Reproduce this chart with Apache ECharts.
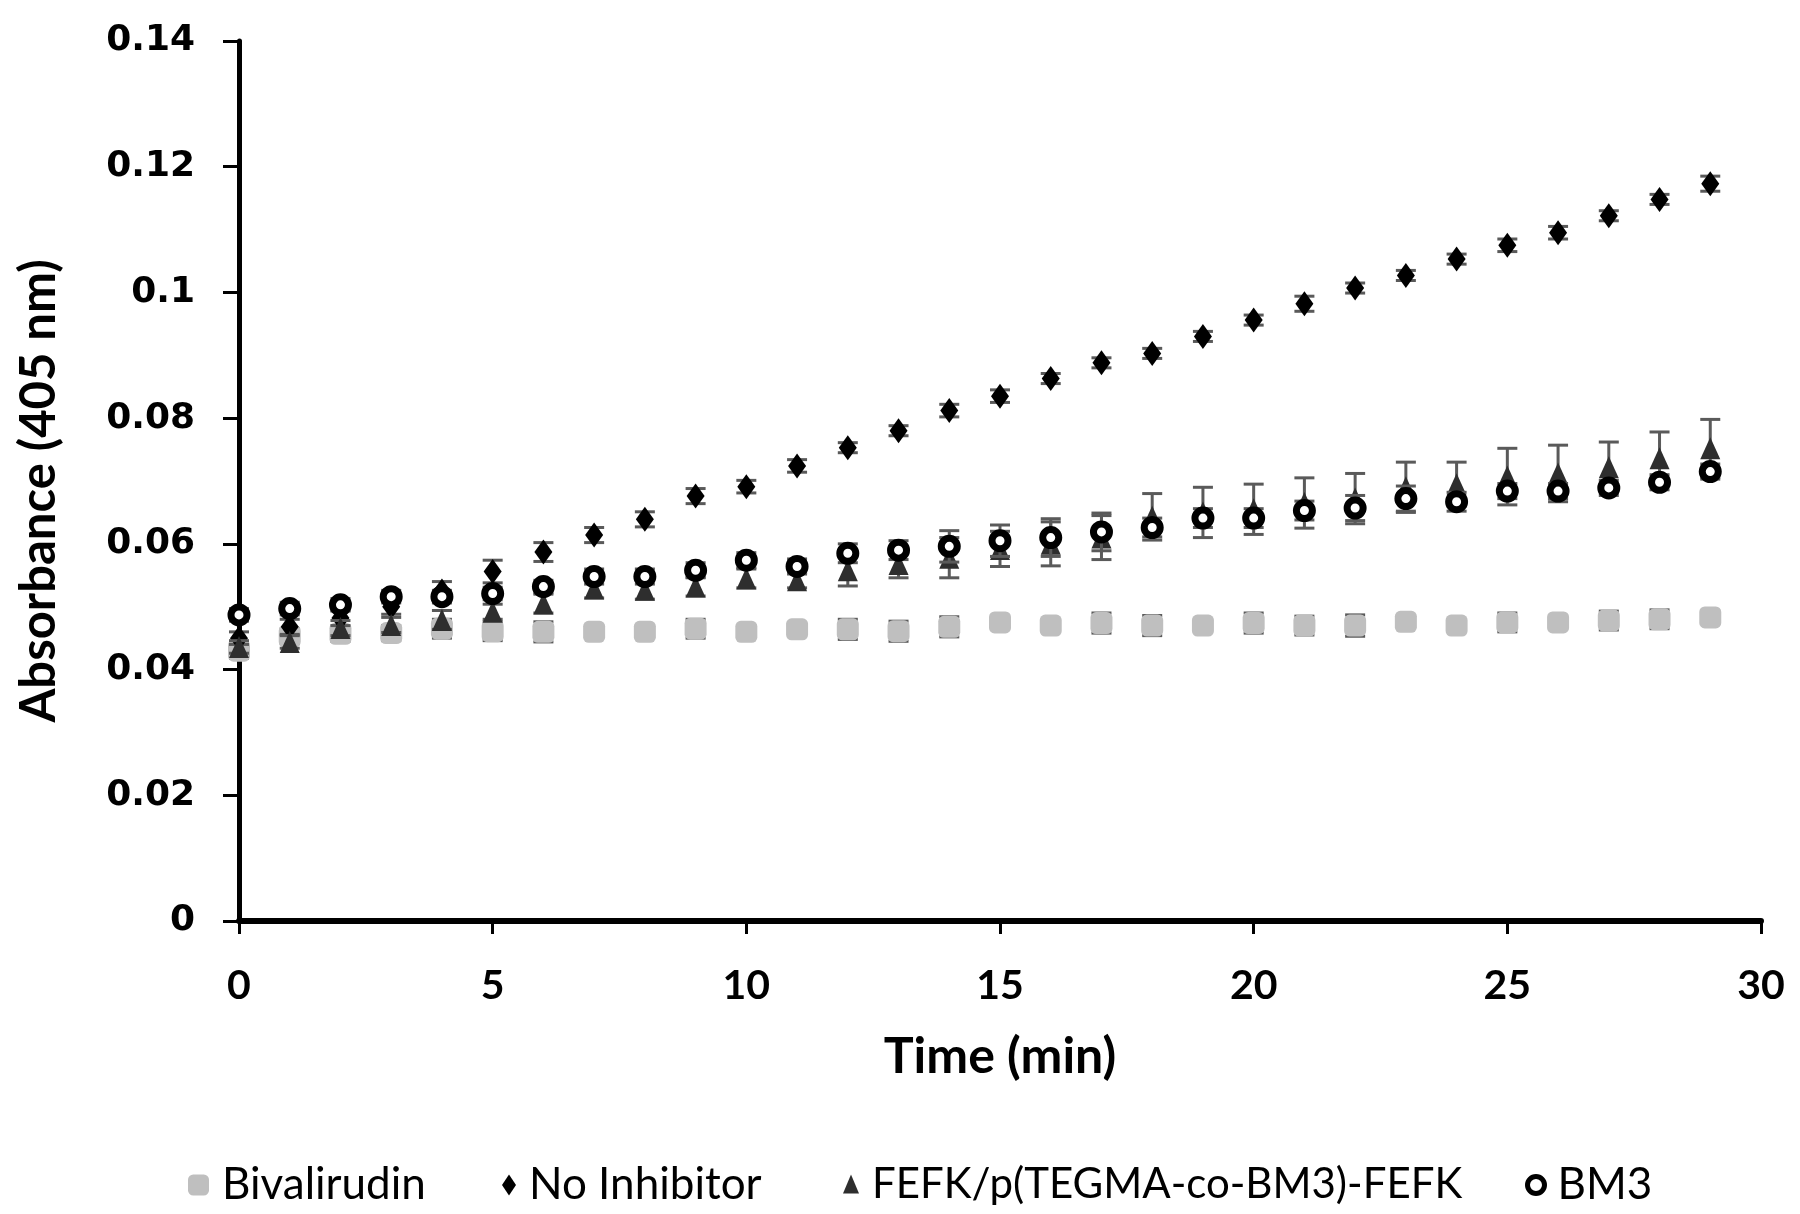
<!DOCTYPE html>
<html>
<head>
<meta charset="utf-8">
<script src="https://cdn.jsdelivr.net/npm/echarts@6/dist/echarts.min.js"></script>
<style>
html,body{margin:0;padding:0;background:#fff;}
#chart{width:1800px;height:1214px;}
</style>
</head>
<body>
<div id="chart"></div>
<script>
const time = [0,1,2,3,4,5,6,7,8,9,10,11,12,13,14,15,16,17,18,19,20,21,22,23,24,25,26,27,28,29];
const xTicks = [0,5,10,15,20,25,30];
const yTicks = [0,0.02,0.04,0.06,0.08,0.1,0.12,0.14];

const bivalirudin = [0.0430,0.0453,0.0457,0.0458,0.0465,0.0461,0.0460,0.0460,0.0460,0.0465,0.0460,0.0464,0.0464,0.0461,0.0468,0.0475,0.0470,0.0474,0.0470,0.0470,0.0474,0.0470,0.0470,0.0476,0.0470,0.0475,0.0475,0.0478,0.0480,0.0483];
const bivalirudinErr = [0.0012,0.0012,0.0012,0.0012,0.0015,0.0015,0.0016,0.0008,0.0008,0.0015,0.0008,0.0008,0.0016,0.0016,0.0016,0.0008,0.0008,0.0016,0.0016,0.0008,0.0016,0.0015,0.0017,0.0008,0.0008,0.0015,0.0008,0.0015,0.0015,0.0008];

const noInhibitor = [0.0450,0.0468,0.0482,0.0500,0.0525,0.0556,0.0587,0.0614,0.0639,0.0676,0.0691,0.0724,0.0753,0.0780,0.0812,0.0835,0.0863,0.0888,0.0903,0.0930,0.0956,0.0982,0.1007,0.1027,0.1053,0.1075,0.1095,0.1122,0.1148,0.1173];
const noInhibitorErr = [0.0010,0.0012,0.0012,0.0012,0.0015,0.0018,0.0015,0.0012,0.0012,0.0012,0.0010,0.0010,0.0008,0.0008,0.0010,0.0010,0.0008,0.0008,0.0008,0.0008,0.0008,0.0012,0.0008,0.0008,0.0008,0.0010,0.0010,0.0008,0.0008,0.0012];

const fefk = [0.0436,0.0444,0.0466,0.0471,0.0479,0.0492,0.0505,0.0529,0.0527,0.0532,0.0545,0.0542,0.0558,0.0568,0.0578,0.0592,0.0600,0.0610,0.0643,0.0650,0.0655,0.0665,0.0672,0.0690,0.0695,0.0707,0.0712,0.0722,0.0736,0.0752];
const fefkErr = [0.0010,0.0010,0.0012,0.0012,0.0015,0.0012,0.0015,0.0015,0.0015,0.0015,0.0015,0.0012,0.0025,0.0022,0.0032,0.0028,0.0035,0.0035,0.0037,0.0040,0.0040,0.0040,0.0040,0.0040,0.0035,0.0045,0.0045,0.0040,0.0042,0.0046];

const bm3 = [0.0487,0.0497,0.0503,0.0516,0.0516,0.0521,0.0532,0.0548,0.0548,0.0558,0.0574,0.0564,0.0585,0.0590,0.0596,0.0605,0.0610,0.0619,0.0626,0.0641,0.0641,0.0653,0.0657,0.0672,0.0667,0.0684,0.0684,0.0689,0.0698,0.0715];
const bm3Err = [0.0010,0.0010,0.0010,0.0010,0.0010,0.0010,0.0010,0.0012,0.0012,0.0012,0.0012,0.0012,0.0015,0.0015,0.0025,0.0025,0.0030,0.0030,0.0015,0.0015,0.0015,0.0015,0.0020,0.0020,0.0015,0.0012,0.0012,0.0012,0.0012,0.0012];

function errData(vals, errs){ return time.map((t,i)=>[t, vals[i]-errs[i], vals[i]+errs[i]]); }
function ptData(vals){ return time.map((t,i)=>[t, vals[i]]); }

function renderErr(params, api){
  const x = api.value(0), lo = api.value(1), hi = api.value(2);
  const a = api.coord([x, hi]), b = api.coord([x, lo]);
  const hw = 10;
  const st = {stroke:'#5a5a5a', lineWidth:3};
  return {type:'group', children:[
    {type:'line', shape:{x1:a[0],y1:a[1],x2:b[0],y2:b[1]}, style:st},
    {type:'line', shape:{x1:a[0]-hw,y1:a[1],x2:a[0]+hw,y2:a[1]}, style:st},
    {type:'line', shape:{x1:b[0]-hw,y1:b[1],x2:b[0]+hw,y2:b[1]}, style:st}
  ]};
}

const names = ['Bivalirudin','No Inhibitor','FEFK/p(TEGMA-co-BM3)-FEFK','BM3'];
const legendLefts = [183, 497, 838, 1520];
const legendFont = [44, 44, 42, 44];
const legendIcons = [
  {icon:'roundRect', w:21, h:21, style:{color:'#bfbfbf', opacity:1}},
  {icon:'diamond', w:14, h:21, style:{color:'#000', opacity:1}},
  {icon:'triangle', w:16, h:19, style:{color:'#2e2e2e', opacity:1}},
  {icon:'circle', w:17, h:17, style:{color:'#fff', borderColor:'#000', borderWidth:5, opacity:1}}
];

const chart = echarts.init(document.getElementById('chart'), null, {renderer:'canvas'});
const option = {
  backgroundColor:'#fff',
  animation:false,
  grid:{left:239, right:39, top:41, bottom:293, containLabel:false, outerBoundsMode:'none'},
  xAxis:{
    type:'value', min:0, max:30, interval:5,
    name:'Time (min)', nameLocation:'middle', nameGap:111,
    nameTextStyle:{fontFamily:'Lato', fontWeight:'bold', fontSize:50, color:'#000'},
    axisLine:{show:true, onZero:false, lineStyle:{color:'#000', width:6}},
    axisTick:{show:true, length:13, lineStyle:{color:'#000', width:3}},
    axisLabel:{margin:44, fontFamily:'Lato', fontWeight:'bold', fontSize:41, color:'#000',
      formatter:v=> xTicks.indexOf(v)>=0 ? String(v) : ''},
    splitLine:{show:false}
  },
  yAxis:{
    type:'value', min:0, max:0.14, interval:0.02,
    name:'Absorbance (405 nm)', nameLocation:'middle', nameGap:175, nameRotate:90,
    nameTextStyle:{fontFamily:'Lato', fontWeight:'bold', fontSize:49, color:'#000', padding:[0,20,0,0]},
    axisLine:{show:true, onZero:false, lineStyle:{color:'#000', width:5}},
    axisTick:{show:true, length:16, lineStyle:{color:'#000', width:3}},
    axisLabel:{margin:44, fontFamily:'DejaVu Sans', fontWeight:'bold', fontSize:36, color:'#000',
      formatter:v=>{ const s = yTicks.find(t=>Math.abs(t-v)<1e-9); return s===undefined? '' : String(+s.toFixed(2)); }},
    splitLine:{show:false}
  },
  legend: names.map((n,i)=>({
    data:[{name:n, icon:legendIcons[i].icon, itemStyle:legendIcons[i].style}],
    left:legendLefts[i], top:1158,
    itemWidth:legendIcons[i].w, itemHeight:legendIcons[i].h, itemGap:0,
    textStyle:{fontFamily:'Lato', fontSize:legendFont[i], color:'#000', padding:[0,0,0,8]},
    selectedMode:false
  })),
  series:[
    {type:'custom', name:'errBiv', renderItem:renderErr, data:errData(bivalirudin,bivalirudinErr), z:1, silent:true},
    {type:'scatter', name:names[0], data:ptData(bivalirudin), symbol:'roundRect', symbolSize:22, itemStyle:{color:'#bfbfbf', opacity:1}, z:2},
    {type:'custom', name:'errNo', renderItem:renderErr, data:errData(noInhibitor,noInhibitorErr), z:3, silent:true},
    {type:'scatter', name:names[1], data:ptData(noInhibitor), symbol:'diamond', symbolSize:[18,25], itemStyle:{color:'#000', opacity:1}, z:4},
    {type:'custom', name:'errFefk', renderItem:renderErr, data:errData(fefk,fefkErr), z:5, silent:true},
    {type:'scatter', name:names[2], data:ptData(fefk), symbol:'triangle', symbolSize:[20,22], itemStyle:{color:'#2e2e2e', opacity:1}, z:6},
    {type:'custom', name:'errBm3', renderItem:renderErr, data:errData(bm3,bm3Err), z:7, silent:true},
    {type:'scatter', name:names[3], data:ptData(bm3), symbol:'circle', symbolSize:16, itemStyle:{color:'#fff', borderColor:'#000', borderWidth:7, opacity:1}, z:8}
  ]
};
chart.setOption(option);
</script>
</body>
</html>
